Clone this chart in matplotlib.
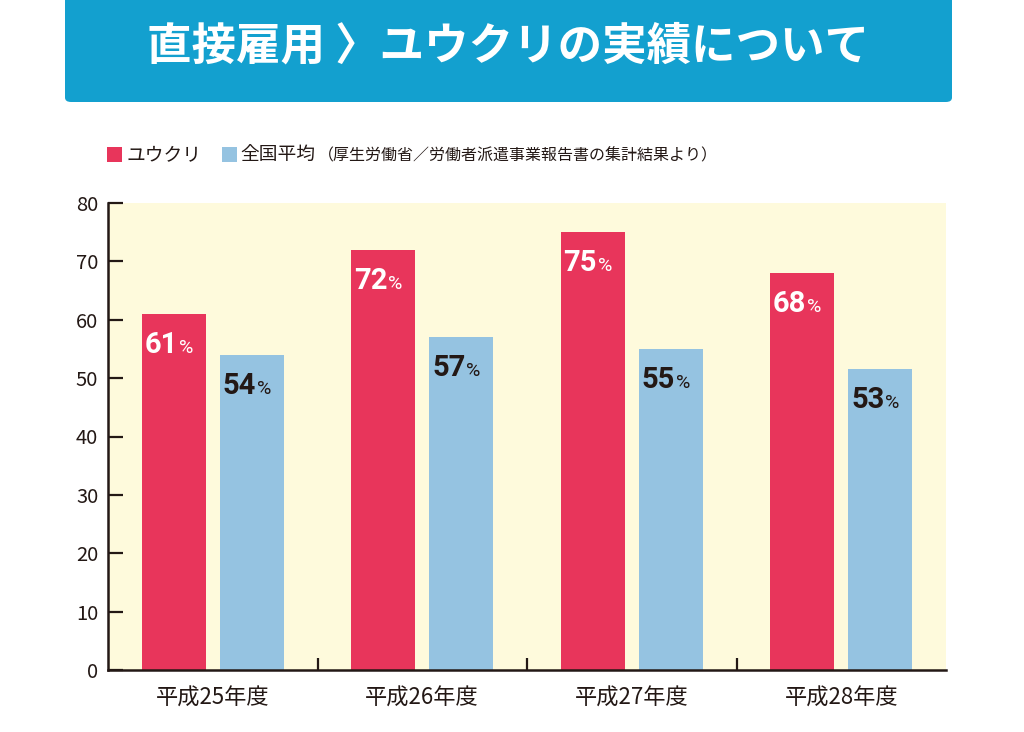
import matplotlib
matplotlib.use("Agg")
import matplotlib.pyplot as plt
import numpy as np
from matplotlib.patches import FancyBboxPatch, Rectangle

plt.rcParams['font.family'] = ['Noto Sans CJK JP', 'DejaVu Sans']

# Data
years = ["平成25年度", "平成26年度", "平成27年度", "平成28年度"]
yukuri = [61, 72, 75, 68]
national = [54, 57, 55, 51.5]          # drawn bar heights
yukuri_labels = ["61", "72", "75", "68"]
national_labels = ["54", "57", "55", "53"]

red = "#E8355B"
blue = "#95C3E1"
bg = "#FEFADC"
dark = "#231815"
band = "#13A0CF"

W, H = 1024, 732
fig = plt.figure(figsize=(10.24, 7.32), dpi=100)

# title band
fig.patches.append(FancyBboxPatch((65 / W, (H - 102) / H), (952 - 65) / W, 0.3,
                                  boxstyle="round,pad=0,rounding_size=0.006",
                                  transform=fig.transFigure, facecolor=band,
                                  edgecolor="none", zorder=0))
fig.text(508 / W, 1 - 47 / H, "直接雇用 〉ユウクリの実績について", color="white",
         fontsize=32, fontweight="bold", ha="center", va="center")

# legend
fig.patches.append(Rectangle((107 / W, 1 - 162 / H), 15 / W, 15 / H,
                             transform=fig.transFigure, facecolor=red, edgecolor="none"))
fig.text(126 / W, 1 - 155 / H, "ユウクリ", fontsize=13.5, va="center", color=dark)
fig.patches.append(Rectangle((222 / W, 1 - 162 / H), 15 / W, 15 / H,
                             transform=fig.transFigure, facecolor=blue, edgecolor="none"))
fig.text(240 / W, 1 - 155 / H, "全国平均", fontsize=13.5, va="center", color=dark)
fig.text(318 / W, 1 - 156 / H, "（厚生労働省／労働者派遣事業報告書の集計結果より）",
         fontsize=11.5, va="center", color=dark)

ax = fig.add_axes([108 / W, 1 - 670 / H, (946 - 108) / W, (670 - 203) / H])
ax.set_facecolor(bg)

x = np.arange(len(years))
w = 0.305
off = 0.186
ax.bar(x - off, yukuri, w, color=red, zorder=2)
ax.bar(x + off, national, w, color=blue, zorder=2)

numfont = dict(family=["Roboto", "DejaVu Sans"], fontweight="bold")
pctfont = dict(family=["Roboto", "DejaVu Sans"])


def put_label(xi, h, lab, col):
    ax.annotate(lab, (xi, h), xytext=(3, -28), textcoords="offset points",
                ha="right", va="baseline", fontsize=21, color=col, **numfont)
    ax.annotate("%", (xi, h), xytext=(3.5, -28), textcoords="offset points",
                ha="left", va="baseline", fontsize=14, color=col, **pctfont)


for xi, h, lab in zip(x - off, yukuri, yukuri_labels):
    put_label(xi, h, lab, "white")
for xi, h, lab in zip(x + off, national, national_labels):
    put_label(xi, h, lab, dark)

ax.set_xlim(-0.5, len(years) - 0.5)
ax.set_ylim(0, 80)
ax.set_yticks(range(0, 81, 10))
ax.tick_params(axis="y", direction="in", length=11, width=1.6, color=dark,
               labelsize=14.5, labelcolor=dark, pad=7)
ax.set_xticks(x)
ax.set_xticklabels(years)
ax.tick_params(axis="x", which="major", length=0, labelsize=16, labelcolor=dark, pad=12)
ax.set_xticks(x[:-1] + 0.5, minor=True)
ax.tick_params(axis="x", which="minor", direction="in", length=9, width=1.6, color=dark)

for s in ["top", "right"]:
    ax.spines[s].set_visible(False)
for s in ["left", "bottom"]:
    ax.spines[s].set_linewidth(1.8)
    ax.spines[s].set_color(dark)

fig.savefig("out.png", dpi=100)
